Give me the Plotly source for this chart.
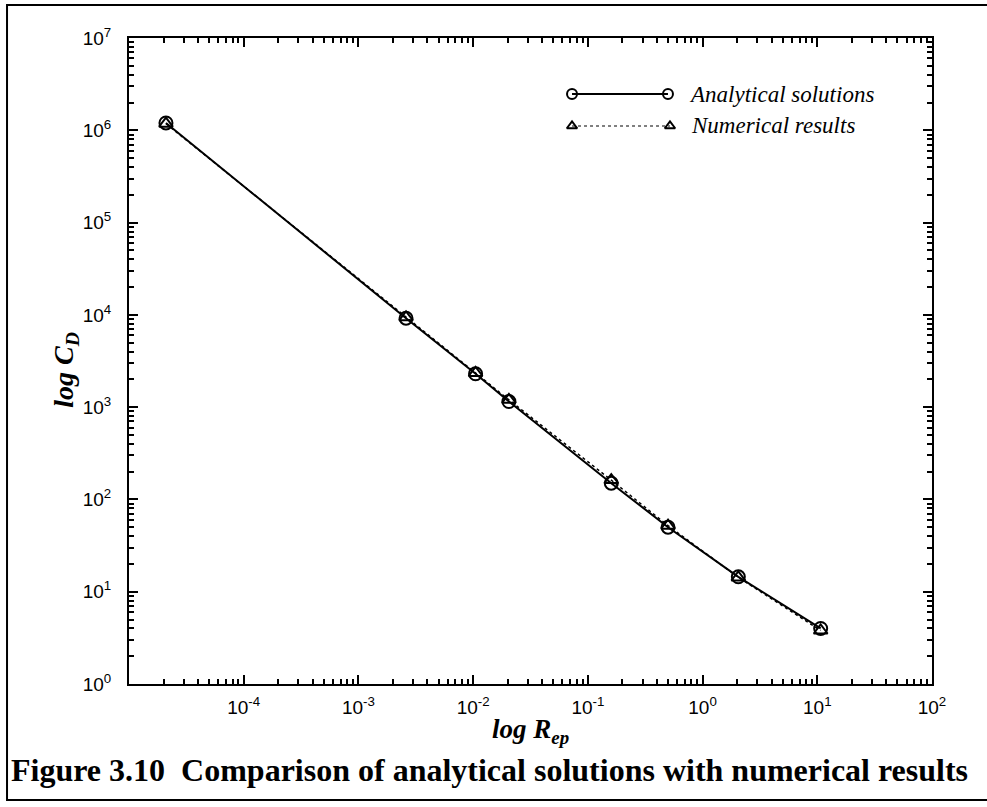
import plotly.graph_objects as go

# ---- data ----
rep_values = [2.1e-5, 2.6e-3, 1.05e-2, 2.05e-2, 0.16, 0.5, 2.05, 10.7]
cd_analytical = [1.2e6, 9.2e3, 2.3e3, 1.15e3, 150, 50, 14.5, 4.0]
cd_numerical = [1.18e6, 9.4e3, 2.35e3, 1.2e3, 162, 52, 14.3, 3.8]

x_tick_vals = [1e-4, 1e-3, 1e-2, 1e-1, 1e0, 1e1, 1e2]
x_tick_text = ["10<sup>-4</sup>", "10<sup>-3</sup>", "10<sup>-2</sup>", "10<sup>-1</sup>",
               "10<sup>0</sup>", "10<sup>1</sup>", "10<sup>2</sup>"]
y_tick_vals = [1e0, 1e1, 1e2, 1e3, 1e4, 1e5, 1e6, 1e7]
y_tick_text = ["10<sup>0</sup>", "10<sup>1</sup>", "10<sup>2</sup>", "10<sup>3</sup>",
               "10<sup>4</sup>", "10<sup>5</sup>", "10<sup>6</sup>", "10<sup>7</sup>"]

series_names = ["Analytical solutions", "Numerical results"]
caption = "Figure 3.10\u00a0 Comparison of analytical solutions with numerical results"

# ---- figure ----
fig = go.Figure()

fig.add_trace(go.Scatter(
    x=rep_values, y=cd_numerical, mode="lines+markers", name=series_names[1],
    line=dict(color="black", width=1.5, dash="dot"),
    marker=dict(symbol="triangle-up-open", size=12, color="black", line=dict(width=2)),
    showlegend=False,
))
fig.add_trace(go.Scatter(
    x=rep_values, y=cd_analytical, mode="lines+markers", name=series_names[0],
    line=dict(color="black", width=2),
    marker=dict(symbol="circle-open", size=13, color="black", line=dict(width=2)),
    showlegend=False,
))

# legend samples drawn on an overlay 0..1 axis pair
fig.add_trace(go.Scatter(
    x=[0.5517, 0.6712], y=[0.9133, 0.9133], xaxis="x2", yaxis="y2", mode="lines+markers",
    line=dict(color="black", width=2),
    marker=dict(symbol="circle-open", size=10, color="black", line=dict(width=2)),
    showlegend=False, hoverinfo="skip",
))
fig.add_trace(go.Scatter(
    x=[0.5517, 0.6737], y=[0.8638, 0.8638], xaxis="x2", yaxis="y2", mode="lines+markers",
    line=dict(color="black", width=1.2, dash="dot"),
    marker=dict(symbol="triangle-up-open", size=9, color="black", line=dict(width=2)),
    showlegend=False, hoverinfo="skip",
))

axis_common = dict(
    type="log", showgrid=False, zeroline=False,
    showline=True, linecolor="black", linewidth=2, mirror="allticks",
    ticks="inside", ticklen=9, tickwidth=2, tickcolor="black",
    tickfont=dict(family="Liberation Sans, Arial", size=19, color="black"),
    minor=dict(ticks="inside", ticklen=5, tickwidth=1.5, tickcolor="black", dtick="D1", showgrid=False),
)

fig.update_layout(
    width=987, height=807,
    margin=dict(l=129, r=55, t=38, b=123),
    paper_bgcolor="white", plot_bgcolor="white",
    xaxis=dict(axis_common, range=[-5, 2], tickmode="array", tickvals=x_tick_vals,
               ticktext=x_tick_text, ticklabelstandoff=5),
    yaxis=dict(axis_common, range=[0, 7], tickmode="array", tickvals=y_tick_vals,
               ticktext=y_tick_text, ticklabelstandoff=12),
    xaxis2=dict(overlaying="x", range=[0, 1], visible=False, anchor="y2"),
    yaxis2=dict(overlaying="y", range=[0, 1], visible=False, anchor="x2"),
    showlegend=False,
    shapes=[dict(type="rect", xref="paper", yref="paper",
                 x0=-0.1519, x1=1.08, y0=-0.1796, y1=1.0511,
                 line=dict(color="black", width=2))],
    annotations=[
        dict(text="<i>" + series_names[0] + "</i>",
             xref="paper", yref="paper", x=0.695, y=0.9133, xanchor="left", yanchor="middle",
             showarrow=False, font=dict(family="Liberation Serif", size=23, color="black")),
        dict(text="<i>" + series_names[1] + "</i>",
             xref="paper", yref="paper", x=0.698, y=0.8638, xanchor="left", yanchor="middle",
             showarrow=False, font=dict(family="Liberation Serif", size=23, color="black")),
        dict(text="<b><i>log C<sub>D</sub></i></b>", textangle=-90,
             xref="paper", yref="paper", x=-0.08, y=0.486, xanchor="center", yanchor="middle",
             showarrow=False, font=dict(family="Liberation Serif", size=28, color="black")),
        dict(text="<b><i>log R<sub>ep</sub></i></b>",
             xref="paper", yref="paper", x=0.5, y=-0.072, xanchor="center", yanchor="middle",
             showarrow=False, font=dict(family="Liberation Serif", size=27, color="black")),
        dict(text="<b>" + caption + "</b>",
             xref="paper", yref="paper", x=-0.149, y=-0.133, xanchor="left", yanchor="middle",
             showarrow=False, font=dict(family="Liberation Serif", size=32, color="black")),
    ],
)

fig.write_html("out.html")
